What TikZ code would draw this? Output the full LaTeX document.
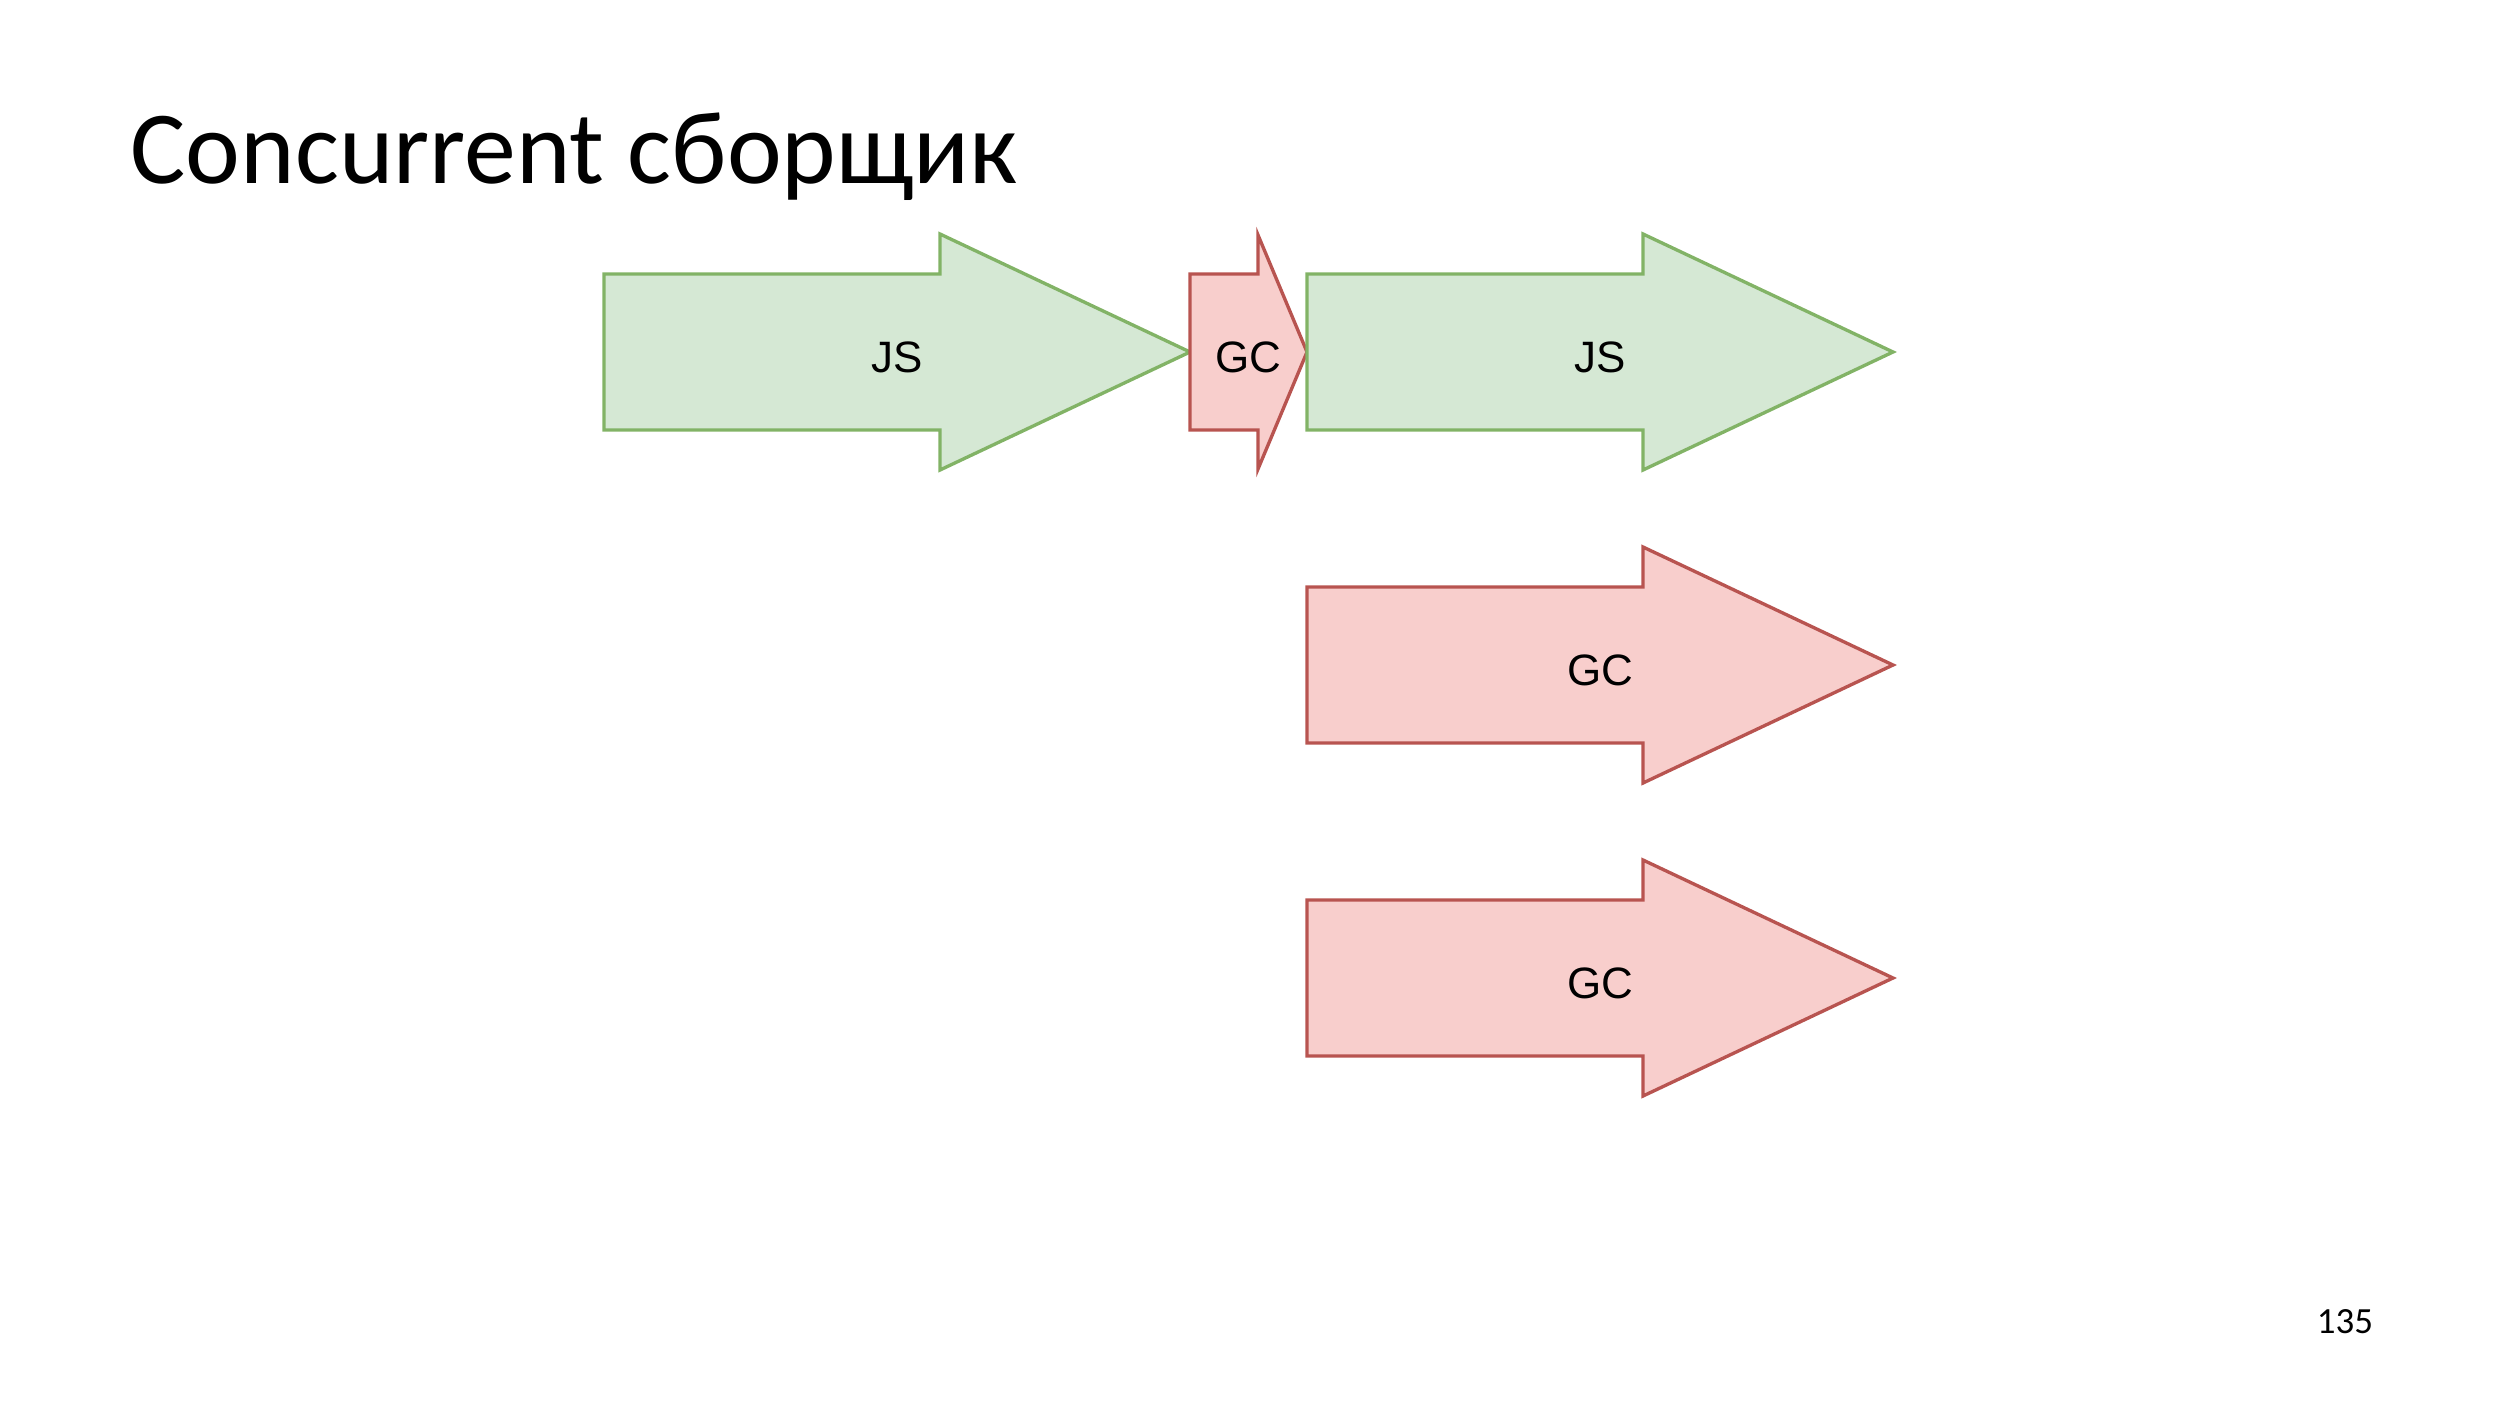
\documentclass[tikz,border=0pt]{standalone}
\usepackage{fontspec}
\usepackage{tikz}
\newfontfamily\titlefont{Carlito}
\newfontfamily\labelfont{Liberation Sans}
\definecolor{jsfill}{HTML}{D5E8D4}
\definecolor{jsline}{HTML}{82B366}
\definecolor{gcfill}{HTML}{F8CECC}
\definecolor{gcline}{HTML}{B85450}

\begin{document}
\begin{tikzpicture}[x=0.01cm,y=-0.01cm,
  jsarrow/.style={draw=jsline,fill=jsfill,line width=0.95pt},
  gcarrow/.style={draw=gcline,fill=gcfill,line width=0.95pt},
  lbl/.style={font=\labelfont\fontsize{12.5}{14}\selectfont,inner sep=0pt}]
\useasboundingbox (0,0) rectangle (2500,1406);
\pgfmathsetmacro{\W}{586}
\pgfmathsetmacro{\L}{250}
\pgfmathsetmacro{\h}{78}
\pgfmathsetmacro{\H}{118}

\node[anchor=base west,inner sep=0pt,font=\titlefont\fontsize{29.5}{36}\selectfont]
  (title) at (130,183) {Concurrent сборщик};

% first JS
\draw[jsarrow] (604,352-\h) -- (604+\W-\L,352-\h) -- (604+\W-\L,352-\H)
  -- (604+\W,352) -- (604+\W-\L,352+\H) -- (604+\W-\L,352+\h)
  -- (604,352+\h) -- cycle;
\node[lbl] (js1) at (604+\W/2,357) {JS};

% short GC pause
\draw[gcarrow] (1190,352-\h) -- (1258,352-\h) -- (1258,352-117)
  -- (1307,352) -- (1258,352+117) -- (1258,352+\h)
  -- (1190,352+\h) -- cycle;
\node[lbl] (gc0) at (1248,357) {GC};

\foreach \y/\s/\t/\n in {352/jsarrow/JS/js2, 665/gcarrow/GC/gc1, 978/gcarrow/GC/gc2} {
\draw[\s] (1307,\y-\h) -- (1307+\W-\L,\y-\h) -- (1307+\W-\L,\y-\H)
  -- (1307+\W,\y) -- (1307+\W-\L,\y+\H) -- (1307+\W-\L,\y+\h)
  -- (1307,\y+\h) -- cycle;
\node[lbl] (\n) at (1307+\W/2,\y+5) {\t};
}

\node[anchor=base,inner sep=0pt,font=\titlefont\fontsize{10.5}{12}\selectfont]
  (page) at (2345,1333) {135};
\end{tikzpicture}
\end{document}
